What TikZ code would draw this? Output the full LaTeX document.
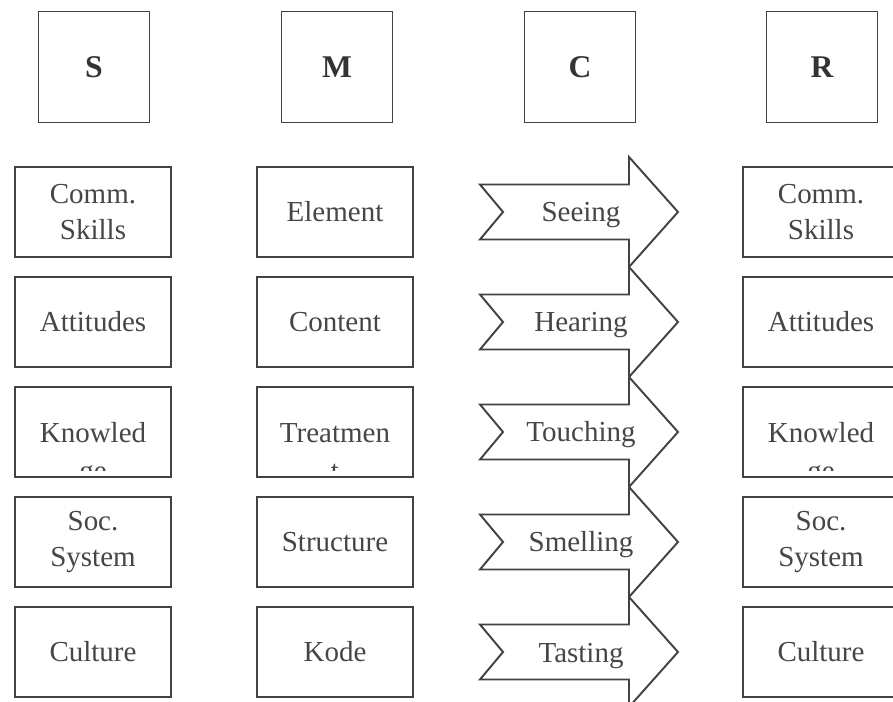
\documentclass[tikz,border=0pt]{standalone}
\usepackage{fontspec}
\setmainfont{Liberation Serif}
\definecolor{SMCRLine}{RGB}{66,66,66}
\definecolor{SMCRText}{RGB}{70,70,70}
\newcommand{\cellfont}{\fontsize{16.5}{20}\selectfont}
\newcommand{\headfont}{\fontsize{18}{20}\selectfont\bfseries}

\begin{document}
\begin{tikzpicture}[x=0.02cm, y=-0.02cm]
  \tikzset{
    cell/.style={draw=SMCRLine, line width=1.1pt, minimum width=3.12cm, minimum height=1.8cm,
                 inner sep=0pt, align=center, font=\cellfont, text=SMCRText},
    headbox/.style={cell, minimum width=2.22cm, minimum height=2.22cm, font=\headfont, text=black!80},
    sense/.style={draw=SMCRLine, line width=1.1pt, fill=white, line join=miter},
    label/.style={font=\cellfont, text=SMCRText, inner sep=0pt}
  }
  \clip (0,0) rectangle (893,702);

  % Headers
  \node[headbox] (hS) at (94,67) {S};
  \node[headbox] (hM) at (337,67) {M};
  \node[headbox] (hC) at (580,67) {C};
  \node[headbox] (hR) at (822,67) {R};

  % Source
  \node[cell] (s1) at (93,212) {Comm.\\Skills};
  \node[cell] (s2) at (93,322) {Attitudes};
  \node[cell] (s3) at (93,432) {};
  \node[cell] (s4) at (93,542) {Soc.\\System};
  \node[cell] (s5) at (93,652) {Culture};

  % Message
  \node[cell] (m1) at (335,212) {Element};
  \node[cell] (m2) at (335,322) {Content};
  \node[cell] (m3) at (335,432) {};
  \node[cell] (m4) at (335,542) {Structure};
  \node[cell] (m5) at (335,652) {Kode};

  % Receiver (cut at the right edge)
  \node[cell] (r1) at (821,212) {Comm.\\Skills};
  \node[cell] (r2) at (821,322) {Attitudes};
  \node[cell] (r3) at (821,432) {};
  \node[cell] (r4) at (821,542) {Soc.\\System};
  \node[cell] (r5) at (821,652) {Culture};

  % Words that overflow their boxes
  \node[label, anchor=base] (s3a) at (93,443) {Knowled};
  \node[label, anchor=base] (m3a) at (335,443) {Treatmen};
  \node[label, anchor=base] (r3a) at (821,443) {Knowled};
  \begin{scope}
    \clip (0,390) rectangle (893,471);
    \node[label, anchor=base] (s3b) at (93,481) {ge};
    \node[label, anchor=base] (m3b) at (335,481) {t};
    \node[label, anchor=base] (r3b) at (821,481) {ge};
  \end{scope}

  % Channel arrows
  \foreach \i/\word in {1/Seeing, 2/Hearing, 3/Touching, 4/Smelling, 5/Tasting} {
    \pgfmathsetmacro{\cy}{212+110*(\i-1)}
    \draw[sense] (480,\cy-27.5) -- (629,\cy-27.5) -- (629,\cy-55) -- (678,\cy)
      -- (629,\cy+55) -- (629,\cy+27.5) -- (480,\cy+27.5) -- (503,\cy) -- cycle;
    \node[label, anchor=base] (c\i) at (581,\cy+10) {\word};
  }
\end{tikzpicture}
\end{document}
